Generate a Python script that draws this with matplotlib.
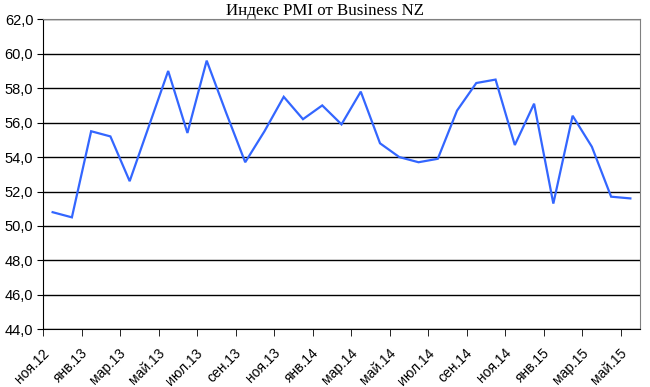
import matplotlib
matplotlib.use("Agg")
import matplotlib.pyplot as plt
import matplotlib.transforms as mtransforms
from matplotlib.ticker import FuncFormatter, MultipleLocator

# monthly index values, ноя.12 .. май.15
months = ["ноя.12", "дек.12",
          "янв.13", "фев.13", "мар.13", "апр.13", "май.13", "июн.13",
          "июл.13", "авг.13", "сен.13", "окт.13", "ноя.13", "дек.13",
          "янв.14", "фев.14", "мар.14", "апр.14", "май.14", "июн.14",
          "июл.14", "авг.14", "сен.14", "окт.14", "ноя.14", "дек.14",
          "янв.15", "фев.15", "мар.15", "апр.15", "май.15"]
pmi = [50.8, 50.5, 55.5, 55.2, 52.6, 55.8, 59.0, 55.4, 59.6, 56.6,
       53.7, 55.5, 57.5, 56.2, 57.0, 55.9, 57.8, 54.8, 54.0, 53.7,
       53.9, 56.7, 58.3, 58.5, 54.7, 57.1, 51.3, 56.4, 54.6, 51.7, 51.6]
title = "Индекс PMI от Business NZ"

fig = plt.figure(figsize=(6.5, 3.87), dpi=100)
ax = fig.add_axes([43/650, 1 - 329.3/387, (640 - 43)/650, (329.3 - 19.3)/387])

x = list(range(len(pmi)))
ax.plot(x, pmi, color="#3366FF", lw=1.6, solid_joinstyle="miter")

ax.set_xlim(-0.5, len(pmi) - 0.5)
ax.set_ylim(44, 62)
ax.yaxis.set_major_locator(MultipleLocator(2))
ax.yaxis.set_major_formatter(FuncFormatter(lambda v, p: f"{v:.1f}".replace(".", ",")))
ax.grid(axis="y", color="black", lw=1.0)
ax.set_axisbelow(True)

for s in ["top", "right"]:
    ax.spines[s].set_color("#808080")
for s in ["left", "bottom"]:
    ax.spines[s].set_color("black")

# tick marks between categories every 2 months, labels on every 2nd month
ax.set_xticks([i - 0.5 for i in range(0, len(pmi) + 1, 2)], minor=True)
ax.set_xticks(x[::2])
ax.set_xticklabels(months[::2], rotation=45, ha="right", va="center",
                   rotation_mode="anchor", fontsize=10, family="Liberation Sans")
ax.tick_params(axis="x", which="major", length=0, pad=15.5)
ax.tick_params(axis="x", which="minor", length=5, color="black", direction="out")
ax.tick_params(axis="y", length=4, color="black", pad=3, labelsize=10.5)
for lab in ax.get_yticklabels():
    lab.set_family("Liberation Sans")
off = mtransforms.ScaledTranslation(-6/100, 0, fig.dpi_scale_trans)
for lab in ax.get_xticklabels():
    lab.set_transform(lab.get_transform() + off)

fig.text(0.5, 0.972, title, ha="center", va="center", fontsize=12.2,
         family="Liberation Serif")

fig.savefig("out.png", dpi=100)
